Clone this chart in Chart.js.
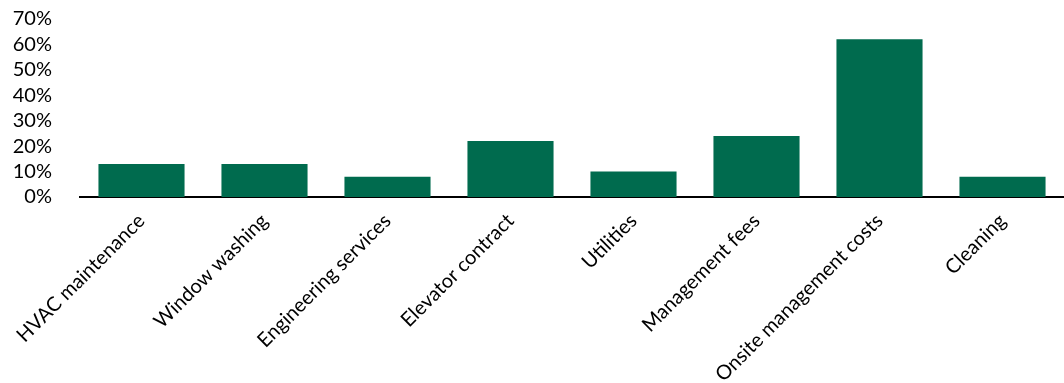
<!DOCTYPE html>
<html>
<head>
<meta charset="utf-8">
<script src="https://cdn.jsdelivr.net/npm/chart.js@4"></script>
<style>
html,body{margin:0;padding:0;background:#fff;}
#wrap{width:1064px;height:383px;}
</style>
</head>
<body>
<div id="wrap"><canvas id="c" width="1064" height="383"></canvas></div>
<script>
const categories = ["HVAC maintenance","Window washing","Engineering services","Elevator contract","Utilities","Management fees","Onsite management costs","Cleaning"];
const values = [13, 13, 8, 22, 10, 24, 62, 8];
const yTicks = [0, 10, 20, 30, 40, 50, 60, 70];

const FONT = "Lato, 'DejaVu Sans', sans-serif";
new Chart(document.getElementById('c'), {
  type: 'bar',
  data: {
    labels: categories,
    datasets: [{
      data: values,
      backgroundColor: '#006B4E',
      borderWidth: 0,
      barPercentage: 0.7,
      categoryPercentage: 1.0
    }]
  },
  options: {
    responsive: false,
    animation: false,
    layout: { padding: { top: 0, right: 0, bottom: 0, left: 0 } },
    plugins: { legend: { display: false }, tooltip: { enabled: false } },
    scales: {
      x: {
        grid: { display: false },
        border: { display: true, color: '#000', width: 2 },
        afterFit: (s) => { s.height = 186; },
        ticks: {
          color: '#000',
          font: { family: FONT, size: 20 },
          maxRotation: 45, minRotation: 45,
          autoSkip: false,
          padding: 4
        }
      },
      y: {
        min: 0, max: 70,
        afterBuildTicks: (s) => { s.ticks = yTicks.map(v => ({ value: v })); },
        afterFit: (s) => { s.width = 80; s.paddingTop = 19; s.paddingBottom = 0; },
        grid: { display: false },
        border: { display: false },
        ticks: {
          color: '#000',
          font: { family: FONT, size: 20 },
          padding: 20,
          autoSkip: false,
          callback: (v) => v + '%'
        }
      }
    }
  }
});
</script>
</body>
</html>
